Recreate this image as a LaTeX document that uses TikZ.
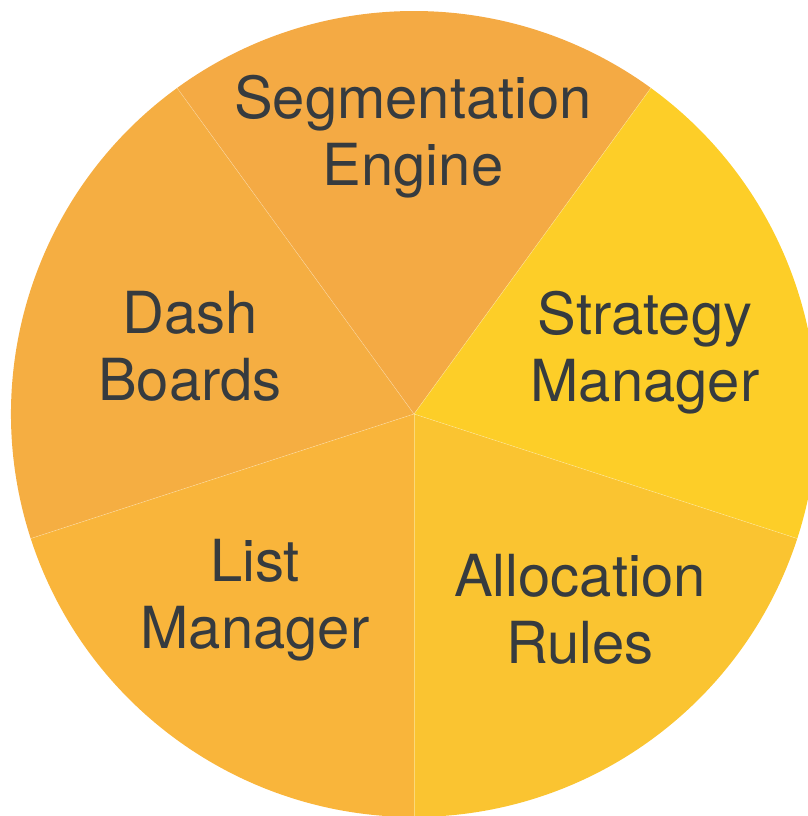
\documentclass[tikz,border=0pt]{standalone}
\usepackage{fontspec}
\setmainfont{TeX Gyre Heros}
\usetikzlibrary{positioning}

\definecolor{segcol}{HTML}{F4AA44}
\definecolor{dashcol}{HTML}{F5AE42}
\definecolor{listcol}{HTML}{F9B53B}
\definecolor{alloccol}{HTML}{FAC431}
\definecolor{stratcol}{HTML}{FDCE28}
\definecolor{textgray}{HTML}{363B3F}

\begin{document}
\begin{tikzpicture}[x=0.02cm, y=0.02cm,
  slicetext/.style={text=textgray, align=center, inner sep=0pt, font=\fontsize{33}{38}\selectfont}]
\useasboundingbox (-414,-402) rectangle (394,414);

%slices
\foreach \a/\b/\c in {54/126/segcol, 126/198/dashcol, 198/270/listcol, 270/342/alloccol, -18/54/stratcol} {
\fill[\c] (0,0) -- (\a:403) arc[start angle=\a, end angle=\b, radius=403] -- cycle;
}

%thin seams
\foreach \a in {54,126,198,270,342} {
\draw[white, opacity=0.35, line width=0.3pt] (0,0) -- (\a:403);
}

%labels
\node[slicetext] (seg) at (-1,277.5) {Segmentation\\Engine};
\node[slicetext] (dash) at (-224,68) {Dash\\Boards};
\node[slicetext] (strat) at (231,61) {Strategy\\Manager};
\node[slicetext] (list) at (-159,-186) {List\\Manager};
\node[slicetext] (alloc) at (166,-195.5) {Allocation\\Rules};

\end{tikzpicture}
\end{document}
